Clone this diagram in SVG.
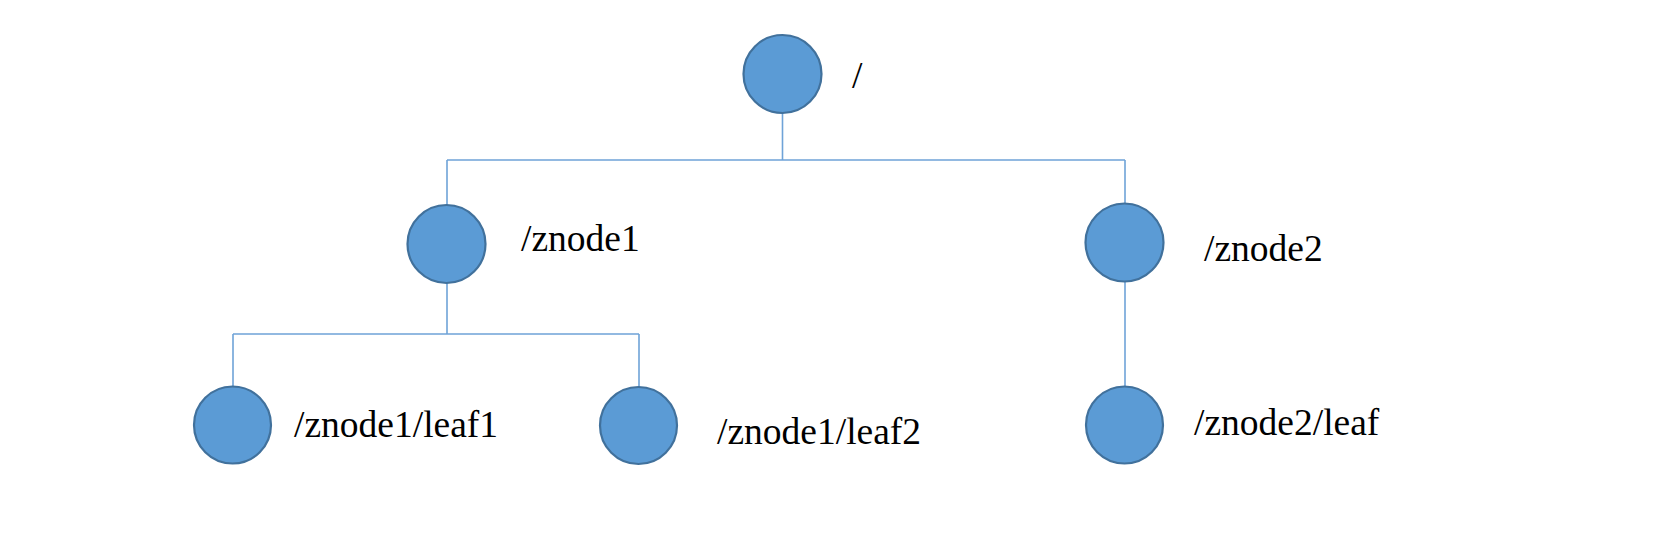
<svg xmlns="http://www.w3.org/2000/svg" width="1659" height="538" viewBox="0 0 1659 538">
<style>
.n{fill:#5B9BD5;stroke:#41719C;stroke-width:2.2}
.c{fill:none;stroke:#6FA3D8;stroke-width:1.6}
.t{font-family:"Liberation Serif","Times New Roman",serif;font-size:37.5px;fill:#000}
</style>
<rect width="1659" height="538" fill="#fff"/>
<g id="connectors">
<path class="c" d="M782.5 113V160M447 160H1125M447 160V205M1125 160V203"/>
<path class="c" d="M447 283V334M233 334H639M233 334V386M639 334V387"/>
<path class="c" d="M1125 282V387"/>
</g>
<g id="root"><circle class="n" cx="782.5" cy="74" r="39"/><text class="t" x="852" y="88">/</text></g>
<g id="znode1"><circle class="n" cx="446.5" cy="244" r="39"/><text class="t" x="521" y="251">/znode1</text></g>
<g id="znode2"><circle class="n" cx="1124.5" cy="242.5" r="39"/><text class="t" x="1204" y="261">/znode2</text></g>
<g id="leaf1"><circle class="n" cx="232.5" cy="425" r="38.5"/><text class="t" x="294" y="437">/znode1/leaf1</text></g>
<g id="leaf2"><circle class="n" cx="638.5" cy="425.5" r="38.5"/><text class="t" x="717" y="444">/znode1/leaf2</text></g>
<g id="leaf3"><circle class="n" cx="1124.5" cy="425" r="38.5"/><text class="t" x="1194" y="435">/znode2/leaf</text></g>
</svg>
